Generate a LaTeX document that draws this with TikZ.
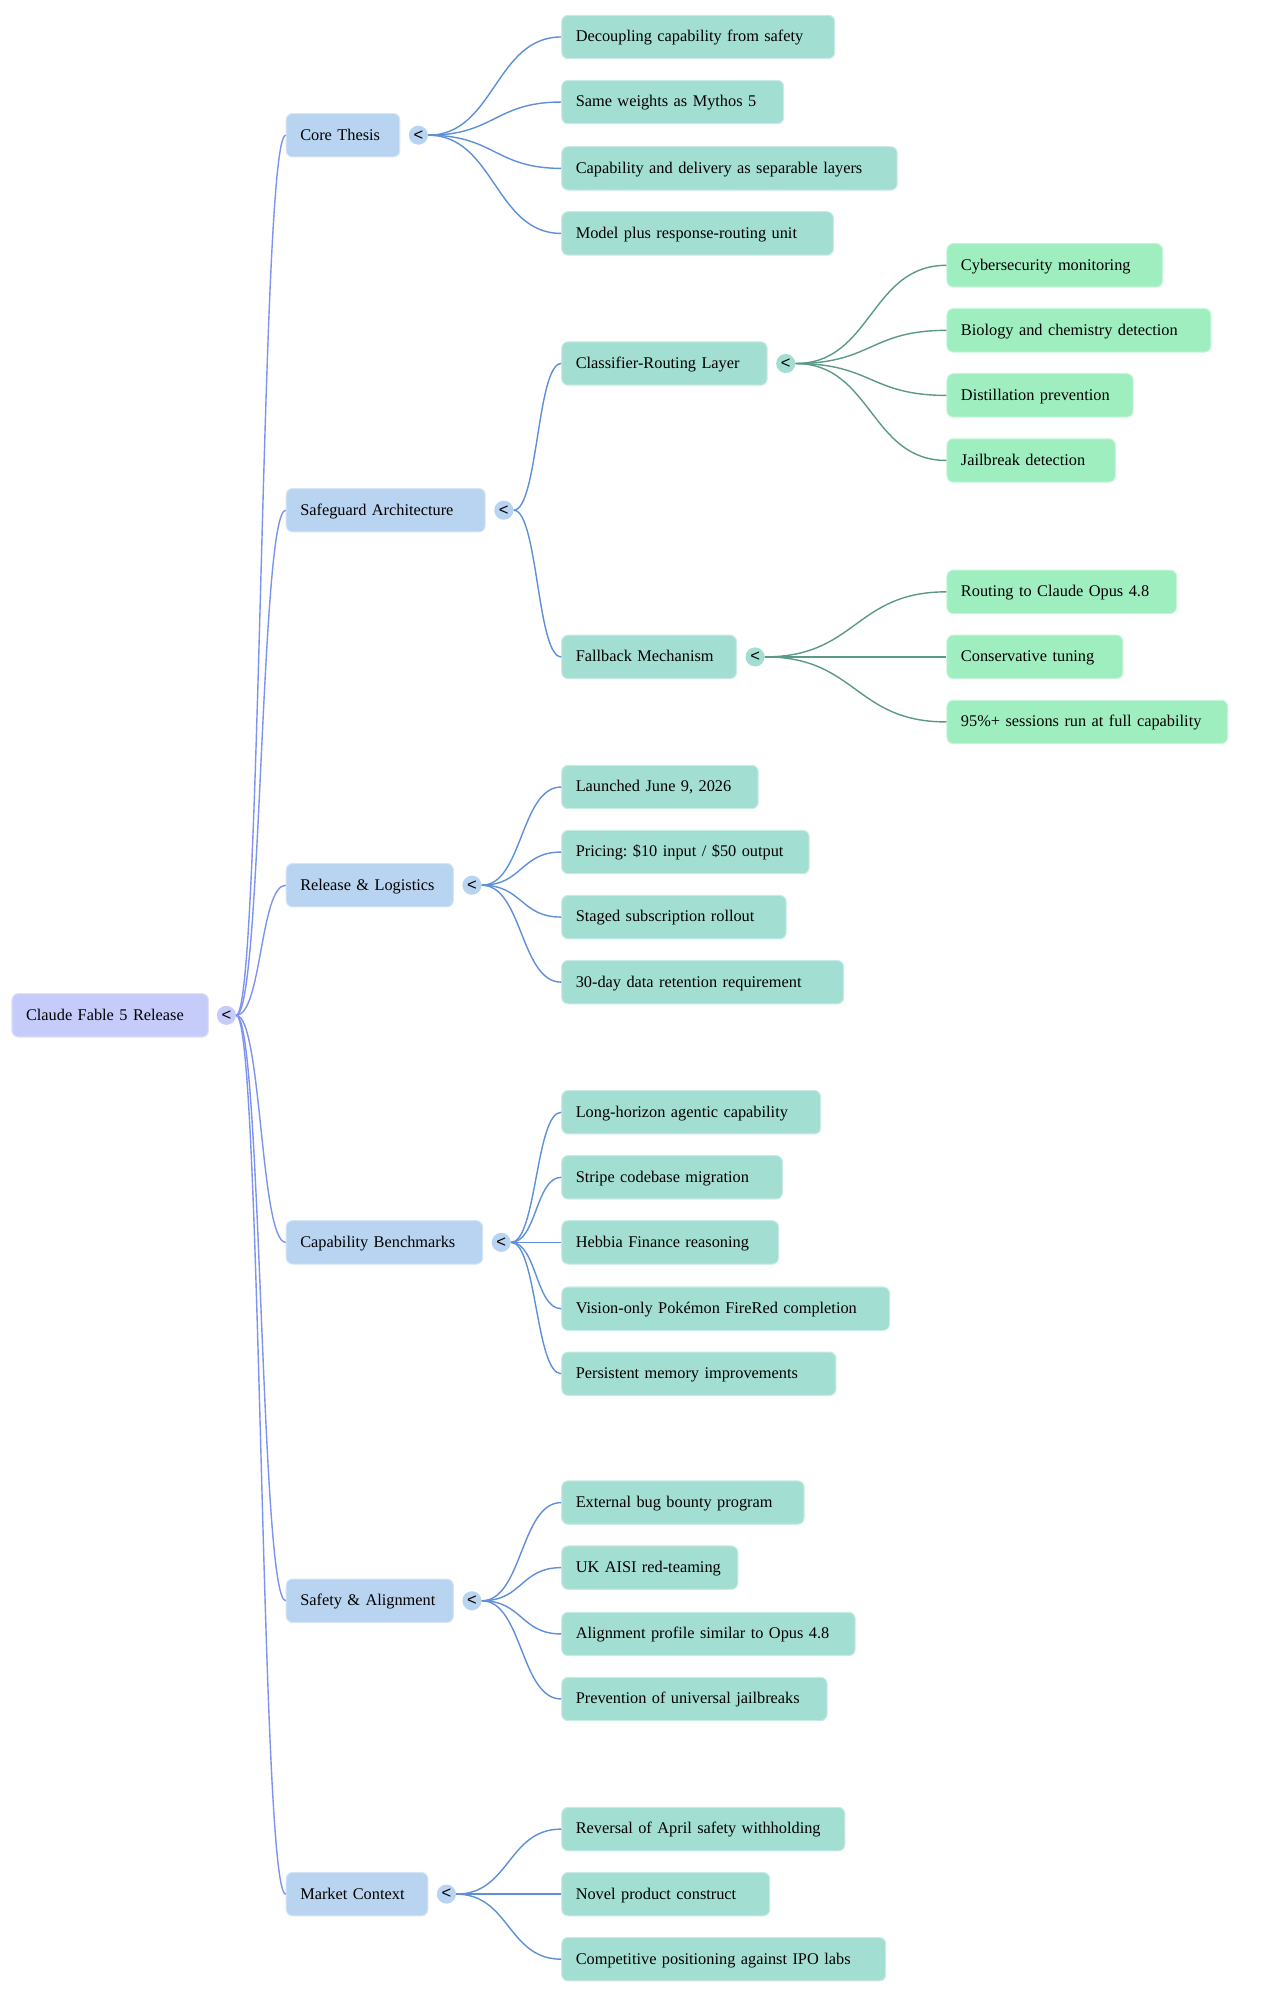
\documentclass[tikz,border=0pt]{standalone}
\usepackage{fontspec}
\setmainfont{Liberation Serif}
\setsansfont{Liberation Sans}
\usetikzlibrary{positioning}
\frenchspacing

\definecolor{rootfill}{HTML}{C5CCFA}
\definecolor{onefill}{HTML}{B8D4F0}
\definecolor{twofill}{HTML}{A3DED2}
\definecolor{threefill}{HTML}{9FEEBF}
\definecolor{rootline}{HTML}{7E92F0}
\definecolor{oneline}{HTML}{5E90D8}
\definecolor{twoline}{HTML}{5A9988}

\begin{document}
\begin{tikzpicture}[
  x=1pt, y=-1pt,
  box/.style={anchor=west, rounded corners=5pt, minimum height=34pt, inner xsep=11pt, inner ysep=0pt,
    align=left, text width=#1, text height=8.6pt, text depth=1pt, font=\fontsize{12.8}{15}\selectfont},
  rootbox/.style={box=#1, fill=rootfill, draw=rootfill!60!white, line width=0.8pt},
  onebox/.style={box=#1, fill=onefill, draw=onefill!60!white, line width=0.8pt},
  twobox/.style={box=#1, fill=twofill, draw=twofill!60!white, line width=0.8pt},
  threebox/.style={box=#1, fill=threefill, draw=threefill!60!white, line width=0.8pt},
  dot/.style={circle, inner sep=0pt, minimum size=15pt, fill=#1, font=\sffamily\fontsize{13}{13}\selectfont},
  rootedge/.style={draw=rootline, line width=1.1pt},
  oneedge/.style={draw=oneline, line width=1.1pt},
  twoedge/.style={draw=twoline, line width=1.1pt}
]
  \useasboundingbox (0,0) rectangle (993,1568);

  % Root
  \node[rootbox=132] (fable) at (9,796) {Claude Fable 5 Release};
  \node[dot=rootfill, right=6pt of fable] (fablec) {<};

  % Main branches
  \node[onebox=67] (thesis) at (224,106) {Core Thesis};
  \node[onebox=134] (guard) at (224,400) {Safeguard Architecture};
  \node[onebox=109] (release) at (224,694) {Release \& Logistics};
  \node[onebox=132] (bench) at (224,974) {Capability Benchmarks};
  \node[onebox=109] (safety) at (224,1255) {Safety \& Alignment};
  \node[onebox=89] (market) at (224,1485) {Market Context};
  \node[dot=onefill, right=6.5pt of thesis] (thesisc) {<};
  \node[dot=onefill, right=6.5pt of guard] (guardc) {<};
  \node[dot=onefill, right=6.5pt of release] (releasec) {<};
  \node[dot=onefill, right=6.5pt of bench] (benchc) {<};
  \node[dot=onefill, right=6.5pt of safety] (safetyc) {<};
  \node[dot=onefill, right=6.5pt of market] (marketc) {<};

  % Core Thesis
  \node[twobox=192] (decouple) at (440,29) {Decoupling capability from safety};
  \node[twobox=152] (weights) at (440,80) {Same weights as Mythos 5};
  \node[twobox=241] (layers) at (440,132) {Capability and delivery as separable layers};
  \node[twobox=191] (unit) at (440,183) {Model plus response-routing unit};

  % Safeguard Architecture
  \node[twobox=139] (classifier) at (440,285) {Classifier-Routing Layer};
  \node[twobox=115] (fallback) at (440,515) {Fallback Mechanism};
  \node[dot=twofill, right=6.5pt of classifier] (classifierc) {<};
  \node[dot=twofill, right=6.5pt of fallback] (fallbackc) {<};
  \node[threebox=147] (cyber) at (742,208) {Cybersecurity monitoring};
  \node[threebox=185] (biochem) at (742,259) {Biology and chemistry detection};
  \node[threebox=124] (distill) at (742,310) {Distillation prevention};
  \node[threebox=110] (jailbrk) at (742,361) {Jailbreak detection};
  \node[threebox=158] (opus) at (742,464) {Routing to Claude Opus 4.8};
  \node[threebox=116] (tuning) at (742,515) {Conservative tuning};
  \node[threebox=198] (sessions) at (742,566) {95\%+ sessions run at full capability};

  % Release & Logistics
  \node[twobox=132] (launch) at (440,617) {Launched June 9, 2026};
  \node[twobox=172] (pricing) at (440,668) {Pricing: \$10 input / \$50 output};
  \node[twobox=154] (rollout) at (440,719) {Staged subscription rollout};
  \node[twobox=199] (retention) at (440,770) {30-day data retention requirement};

  % Capability Benchmarks
  \node[twobox=181] (agentic) at (440,872) {Long-horizon agentic capability};
  \node[twobox=151] (stripe) at (440,923) {Stripe codebase migration};
  \node[twobox=148] (hebbia) at (440,974) {Hebbia Finance reasoning};
  \node[twobox=235] (pokemon) at (440,1026) {Vision-only Pokémon FireRed completion};
  \node[twobox=193] (memory) at (440,1077) {Persistent memory improvements};

  % Safety & Alignment
  \node[twobox=168] (bounty) at (440,1178) {External bug bounty program};
  \node[twobox=116] (aisi) at (440,1229) {UK AISI red-teaming};
  \node[twobox=208] (profile) at (440,1281) {Alignment profile similar to Opus 4.8};
  \node[twobox=186] (universal) at (440,1332) {Prevention of universal jailbreaks};

  % Market Context
  \node[twobox=200] (reversal) at (440,1434) {Reversal of April safety withholding};
  \node[twobox=141] (construct) at (440,1485) {Novel product construct};
  \node[twobox=232] (ipo) at (440,1536) {Competitive positioning against IPO labs};

  % Edges
  \draw[rootedge] (fablec.east) .. controls +(20,0) and +(-20,0) .. (thesis.west);
  \draw[rootedge] (fablec.east) .. controls +(20,0) and +(-20,0) .. (guard.west);
  \draw[rootedge] (fablec.east) .. controls +(20,0) and +(-20,0) .. (release.west);
  \draw[rootedge] (fablec.east) .. controls +(20,0) and +(-20,0) .. (bench.west);
  \draw[rootedge] (fablec.east) .. controls +(20,0) and +(-20,0) .. (safety.west);
  \draw[rootedge] (fablec.east) .. controls +(20,0) and +(-20,0) .. (market.west);

  \draw[oneedge] (thesisc.east) .. controls +(52,0) and +(-52,0) .. (decouple.west);
  \draw[oneedge] (thesisc.east) .. controls +(52,0) and +(-52,0) .. (weights.west);
  \draw[oneedge] (thesisc.east) .. controls +(52,0) and +(-52,0) .. (layers.west);
  \draw[oneedge] (thesisc.east) .. controls +(52,0) and +(-52,0) .. (unit.west);

  \draw[oneedge] (guardc.east) .. controls +(19,0) and +(-19,0) .. (classifier.west);
  \draw[oneedge] (guardc.east) .. controls +(19,0) and +(-19,0) .. (fallback.west);
  \draw[twoedge] (classifierc.east) .. controls +(60,0) and +(-60,0) .. (cyber.west);
  \draw[twoedge] (classifierc.east) .. controls +(60,0) and +(-60,0) .. (biochem.west);
  \draw[twoedge] (classifierc.east) .. controls +(60,0) and +(-60,0) .. (distill.west);
  \draw[twoedge] (classifierc.east) .. controls +(60,0) and +(-60,0) .. (jailbrk.west);
  \draw[twoedge] (fallbackc.east) .. controls +(72,0) and +(-72,0) .. (opus.west);
  \draw[twoedge] (fallbackc.east) .. controls +(72,0) and +(-72,0) .. (tuning.west);
  \draw[twoedge] (fallbackc.east) .. controls +(72,0) and +(-72,0) .. (sessions.west);

  \draw[oneedge] (releasec.east) .. controls +(32,0) and +(-32,0) .. (launch.west);
  \draw[oneedge] (releasec.east) .. controls +(32,0) and +(-32,0) .. (pricing.west);
  \draw[oneedge] (releasec.east) .. controls +(32,0) and +(-32,0) .. (rollout.west);
  \draw[oneedge] (releasec.east) .. controls +(32,0) and +(-32,0) .. (retention.west);

  \draw[oneedge] (benchc.east) .. controls +(20,0) and +(-20,0) .. (agentic.west);
  \draw[oneedge] (benchc.east) .. controls +(20,0) and +(-20,0) .. (stripe.west);
  \draw[oneedge] (benchc.east) .. controls +(20,0) and +(-20,0) .. (hebbia.west);
  \draw[oneedge] (benchc.east) .. controls +(20,0) and +(-20,0) .. (pokemon.west);
  \draw[oneedge] (benchc.east) .. controls +(20,0) and +(-20,0) .. (memory.west);

  \draw[oneedge] (safetyc.east) .. controls +(32,0) and +(-32,0) .. (bounty.west);
  \draw[oneedge] (safetyc.east) .. controls +(32,0) and +(-32,0) .. (aisi.west);
  \draw[oneedge] (safetyc.east) .. controls +(32,0) and +(-32,0) .. (profile.west);
  \draw[oneedge] (safetyc.east) .. controls +(32,0) and +(-32,0) .. (universal.west);

  \draw[oneedge] (marketc.east) .. controls +(42,0) and +(-42,0) .. (reversal.west);
  \draw[oneedge] (marketc.east) .. controls +(42,0) and +(-42,0) .. (construct.west);
  \draw[oneedge] (marketc.east) .. controls +(42,0) and +(-42,0) .. (ipo.west);

\end{tikzpicture}
\end{document}
